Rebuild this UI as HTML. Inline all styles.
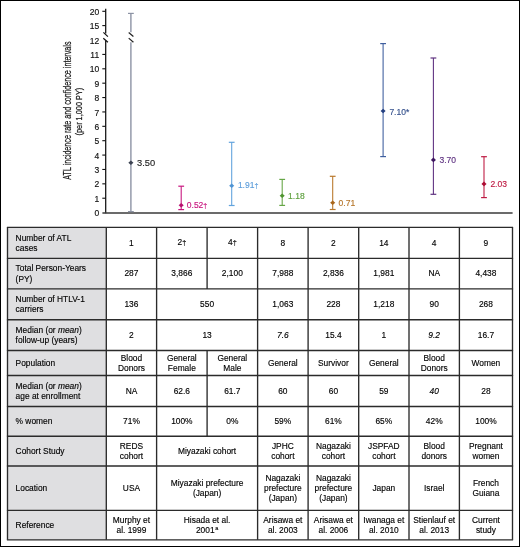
<!DOCTYPE html>
<html><head><meta charset="utf-8"><style>
html,body{margin:0;padding:0;background:#fff}
#root{will-change:transform;position:relative;width:520px;height:547px;overflow:hidden;background:#fff;box-sizing:border-box;border:1px solid #000}
#root>*{}
.c{position:absolute;display:flex;align-items:center;font-family:"Liberation Sans", sans-serif;font-size:8.4px;line-height:10.2px;color:#000;-webkit-text-stroke:0.14px #000}
.d{justify-content:center;text-align:center}
.h{justify-content:flex-start;text-align:left}
sup{font-size:5.5px;line-height:0;vertical-align:3.2px;margin-left:0.6px}
.dg{font-size:0.86em;vertical-align:0.06em}
</style></head><body><div id="root">
<div style="position:absolute;left:-1px;top:-1px;width:520px;height:547px">
<svg width="520" height="222" viewBox="0 0 520 222" style="position:absolute;left:0;top:0"><text font-family='"Liberation Sans", sans-serif' font-size="10.1" fill="#1a1a1a" stroke="#1a1a1a" stroke-width="0.25" text-anchor="middle" transform="translate(70.9,110.6) rotate(-90) scale(0.71,1)">ATL incidence rate and confidence intervals</text><text font-family='"Liberation Sans", sans-serif' font-size="9.8" fill="#1a1a1a" stroke="#1a1a1a" stroke-width="0.25" text-anchor="middle" transform="translate(82.3,111.6) rotate(-90) scale(0.75,1)">(per 1,000 PY)</text><line x1="105.7" y1="8.8" x2="105.7" y2="33.6" stroke="#111" stroke-width="1.25"/><line x1="105.7" y1="40.5" x2="105.7" y2="213.3" stroke="#111" stroke-width="1.25"/><line x1="103.4" y1="32.4" x2="107.9" y2="36.6" stroke="#111" stroke-width="1.2"/><line x1="103.3" y1="38.2" x2="107.9" y2="42.2" stroke="#111" stroke-width="1.2"/><line x1="102.4" y1="213.0" x2="512.6" y2="213.0" stroke="#3a3a3a" stroke-width="1.7"/><line x1="102.3" y1="11.30" x2="105.7" y2="11.30" stroke="#111" stroke-width="1.1"/><text x="99.2" y="14.90" font-family='"Liberation Sans", sans-serif' font-size="8.5" fill="#111" stroke="#111" stroke-width="0.15" text-anchor="end">20</text><line x1="102.3" y1="25.60" x2="105.7" y2="25.60" stroke="#111" stroke-width="1.1"/><text x="99.2" y="29.20" font-family='"Liberation Sans", sans-serif' font-size="8.5" fill="#111" stroke="#111" stroke-width="0.15" text-anchor="end">15</text><text x="99.2" y="43.60" font-family='"Liberation Sans", sans-serif' font-size="8.5" fill="#111" stroke="#111" stroke-width="0.15" text-anchor="end">12</text><line x1="102.3" y1="54.42" x2="105.7" y2="54.42" stroke="#111" stroke-width="1.1"/><text x="99.2" y="58.02" font-family='"Liberation Sans", sans-serif' font-size="8.5" fill="#111" stroke="#111" stroke-width="0.15" text-anchor="end">11</text><line x1="102.3" y1="68.80" x2="105.7" y2="68.80" stroke="#111" stroke-width="1.1"/><text x="99.2" y="72.40" font-family='"Liberation Sans", sans-serif' font-size="8.5" fill="#111" stroke="#111" stroke-width="0.15" text-anchor="end">10</text><line x1="102.3" y1="83.18" x2="105.7" y2="83.18" stroke="#111" stroke-width="1.1"/><text x="99.2" y="86.78" font-family='"Liberation Sans", sans-serif' font-size="8.5" fill="#111" stroke="#111" stroke-width="0.15" text-anchor="end">9</text><line x1="102.3" y1="97.56" x2="105.7" y2="97.56" stroke="#111" stroke-width="1.1"/><text x="99.2" y="101.16" font-family='"Liberation Sans", sans-serif' font-size="8.5" fill="#111" stroke="#111" stroke-width="0.15" text-anchor="end">8</text><line x1="102.3" y1="111.94" x2="105.7" y2="111.94" stroke="#111" stroke-width="1.1"/><text x="99.2" y="115.54" font-family='"Liberation Sans", sans-serif' font-size="8.5" fill="#111" stroke="#111" stroke-width="0.15" text-anchor="end">7</text><line x1="102.3" y1="126.32" x2="105.7" y2="126.32" stroke="#111" stroke-width="1.1"/><text x="99.2" y="129.92" font-family='"Liberation Sans", sans-serif' font-size="8.5" fill="#111" stroke="#111" stroke-width="0.15" text-anchor="end">6</text><line x1="102.3" y1="140.70" x2="105.7" y2="140.70" stroke="#111" stroke-width="1.1"/><text x="99.2" y="144.30" font-family='"Liberation Sans", sans-serif' font-size="8.5" fill="#111" stroke="#111" stroke-width="0.15" text-anchor="end">5</text><line x1="102.3" y1="155.08" x2="105.7" y2="155.08" stroke="#111" stroke-width="1.1"/><text x="99.2" y="158.68" font-family='"Liberation Sans", sans-serif' font-size="8.5" fill="#111" stroke="#111" stroke-width="0.15" text-anchor="end">4</text><line x1="102.3" y1="169.46" x2="105.7" y2="169.46" stroke="#111" stroke-width="1.1"/><text x="99.2" y="173.06" font-family='"Liberation Sans", sans-serif' font-size="8.5" fill="#111" stroke="#111" stroke-width="0.15" text-anchor="end">3</text><line x1="102.3" y1="183.84" x2="105.7" y2="183.84" stroke="#111" stroke-width="1.1"/><text x="99.2" y="187.44" font-family='"Liberation Sans", sans-serif' font-size="8.5" fill="#111" stroke="#111" stroke-width="0.15" text-anchor="end">2</text><line x1="102.3" y1="198.22" x2="105.7" y2="198.22" stroke="#111" stroke-width="1.1"/><text x="99.2" y="201.82" font-family='"Liberation Sans", sans-serif' font-size="8.5" fill="#111" stroke="#111" stroke-width="0.15" text-anchor="end">1</text><text x="99.2" y="216.20" font-family='"Liberation Sans", sans-serif' font-size="8.5" fill="#111" stroke="#111" stroke-width="0.15" text-anchor="end">0</text><line x1="130.9" y1="13.4" x2="130.9" y2="32.2" stroke="#8c93a4" stroke-width="1.4"/><line x1="130.9" y1="42.3" x2="130.9" y2="211.6" stroke="#8c93a4" stroke-width="1.4"/><line x1="128.7" y1="32.5" x2="133.4" y2="36.5" stroke="#222" stroke-width="1.2"/><line x1="128.7" y1="38.1" x2="133.4" y2="42.2" stroke="#222" stroke-width="1.2"/><line x1="128.00" y1="13.4" x2="133.80" y2="13.4" stroke="#8c93a4" stroke-width="1.2"/><line x1="128.00" y1="211.6" x2="133.80" y2="211.6" stroke="#8c93a4" stroke-width="1.2"/><polygon points="128.35,162.7 130.90,160.40 133.45,162.7 130.90,165.00" fill="#3c4352"/><text x="137.0" y="165.60" font-family='"Liberation Sans", sans-serif' font-size="9.3" fill="#262626" stroke="#262626" stroke-width="0.15">3.50</text><line x1="181.2" y1="186.2" x2="181.2" y2="209.6" stroke="#c8167f" stroke-width="1.08"/><line x1="178.30" y1="186.2" x2="184.10" y2="186.2" stroke="#c8167f" stroke-width="1.2"/><line x1="178.30" y1="209.6" x2="184.10" y2="209.6" stroke="#c8167f" stroke-width="1.2"/><polygon points="178.65,205.3 181.20,203.00 183.75,205.3 181.20,207.60" fill="#b8106f"/><text x="186.8" y="208.47" font-family='"Liberation Sans", sans-serif' font-size="8.5" fill="#c8167f" stroke="#c8167f" stroke-width="0.15">0.52<tspan font-size="7.2" dy="-0.4">†</tspan></text><line x1="231.7" y1="142.3" x2="231.7" y2="205.5" stroke="#62a3dd" stroke-width="1.08"/><line x1="228.80" y1="142.3" x2="234.60" y2="142.3" stroke="#62a3dd" stroke-width="1.2"/><line x1="228.80" y1="205.5" x2="234.60" y2="205.5" stroke="#62a3dd" stroke-width="1.2"/><polygon points="229.15,185.7 231.70,183.40 234.25,185.7 231.70,188.00" fill="#4f94d4"/><text x="237.9" y="188.17" font-family='"Liberation Sans", sans-serif' font-size="8.5" fill="#5f9fdb" stroke="#5f9fdb" stroke-width="0.15">1.91<tspan font-size="7.2" dy="-0.4">†</tspan></text><line x1="282.2" y1="179.4" x2="282.2" y2="205.4" stroke="#66a646" stroke-width="1.08"/><line x1="279.30" y1="179.4" x2="285.10" y2="179.4" stroke="#66a646" stroke-width="1.2"/><line x1="279.30" y1="205.4" x2="285.10" y2="205.4" stroke="#66a646" stroke-width="1.2"/><polygon points="279.65,195.8 282.20,193.50 284.75,195.8 282.20,198.10" fill="#4f9530"/><text x="288.1" y="198.97" font-family='"Liberation Sans", sans-serif' font-size="8.5" fill="#5ea03e" stroke="#5ea03e" stroke-width="0.15">1.18</text><line x1="332.7" y1="176.3" x2="332.7" y2="209.5" stroke="#b9782c" stroke-width="1.08"/><line x1="329.80" y1="176.3" x2="335.60" y2="176.3" stroke="#b9782c" stroke-width="1.2"/><line x1="329.80" y1="209.5" x2="335.60" y2="209.5" stroke="#b9782c" stroke-width="1.2"/><polygon points="330.15,202.8 332.70,200.50 335.25,202.8 332.70,205.10" fill="#a9661a"/><text x="338.6" y="205.97" font-family='"Liberation Sans", sans-serif' font-size="8.5" fill="#b57428" stroke="#b57428" stroke-width="0.15">0.71</text><line x1="383.1" y1="43.6" x2="383.1" y2="156.6" stroke="#3f5f9f" stroke-width="1.08"/><line x1="380.20" y1="43.6" x2="386.00" y2="43.6" stroke="#3f5f9f" stroke-width="1.2"/><line x1="380.20" y1="156.6" x2="386.00" y2="156.6" stroke="#3f5f9f" stroke-width="1.2"/><polygon points="380.55,111.0 383.10,108.70 385.65,111.0 383.10,113.30" fill="#233f80"/><text x="389.4" y="114.77" font-family='"Liberation Sans", sans-serif' font-size="8.5" fill="#34508c" stroke="#34508c" stroke-width="0.15">7.10*</text><line x1="433.4" y1="58.0" x2="433.4" y2="194.3" stroke="#5e3180" stroke-width="1.08"/><line x1="430.50" y1="58.0" x2="436.30" y2="58.0" stroke="#5e3180" stroke-width="1.2"/><line x1="430.50" y1="194.3" x2="436.30" y2="194.3" stroke="#5e3180" stroke-width="1.2"/><polygon points="430.85,159.9 433.40,157.60 435.95,159.9 433.40,162.20" fill="#3d1560"/><text x="439.5" y="163.47" font-family='"Liberation Sans", sans-serif' font-size="8.5" fill="#5e3180" stroke="#5e3180" stroke-width="0.15">3.70</text><line x1="484.0" y1="156.7" x2="484.0" y2="197.6" stroke="#be1a42" stroke-width="1.08"/><line x1="481.10" y1="156.7" x2="486.90" y2="156.7" stroke="#be1a42" stroke-width="1.2"/><line x1="481.10" y1="197.6" x2="486.90" y2="197.6" stroke="#be1a42" stroke-width="1.2"/><polygon points="481.45,183.9 484.00,181.60 486.55,183.9 484.00,186.20" fill="#ad0c33"/><text x="490.4" y="186.97" font-family='"Liberation Sans", sans-serif' font-size="8.5" fill="#be1a42" stroke="#be1a42" stroke-width="0.15">2.03</text></svg>
<div style="position:absolute;left:7.5px;top:227.3px;width:98.80px;height:312.50px;background:#dfdfe1"></div><div class="c h" style="left:15.60px;top:227.30px;width:89.80px;height:31.00px"><span>Number of ATL<br>cases</span></div><div class="c d" style="left:106.30px;top:227.30px;width:50.30px;height:31.00px"><span>1</span></div><div class="c d" style="left:156.60px;top:227.30px;width:50.50px;height:31.00px"><span>2<span class="dg">†</span></span></div><div class="c d" style="left:207.10px;top:227.30px;width:50.50px;height:31.00px"><span>4<span class="dg">†</span></span></div><div class="c d" style="left:257.60px;top:227.30px;width:50.50px;height:31.00px"><span>8</span></div><div class="c d" style="left:308.10px;top:227.30px;width:50.60px;height:31.00px"><span>2</span></div><div class="c d" style="left:358.70px;top:227.30px;width:50.30px;height:31.00px"><span>14</span></div><div class="c d" style="left:409.00px;top:227.30px;width:50.40px;height:31.00px"><span>4</span></div><div class="c d" style="left:459.40px;top:227.30px;width:53.10px;height:31.00px"><span>9</span></div><div class="c h" style="left:15.60px;top:258.30px;width:89.80px;height:30.60px"><span>Total Person-Years<br>(PY)</span></div><div class="c d" style="left:106.30px;top:258.30px;width:50.30px;height:30.60px"><span>287</span></div><div class="c d" style="left:156.60px;top:258.30px;width:50.50px;height:30.60px"><span>3,866</span></div><div class="c d" style="left:207.10px;top:258.30px;width:50.50px;height:30.60px"><span>2,100</span></div><div class="c d" style="left:257.60px;top:258.30px;width:50.50px;height:30.60px"><span>7,988</span></div><div class="c d" style="left:308.10px;top:258.30px;width:50.60px;height:30.60px"><span>2,836</span></div><div class="c d" style="left:358.70px;top:258.30px;width:50.30px;height:30.60px"><span>1,981</span></div><div class="c d" style="left:409.00px;top:258.30px;width:50.40px;height:30.60px"><span>NA</span></div><div class="c d" style="left:459.40px;top:258.30px;width:53.10px;height:30.60px"><span>4,438</span></div><div class="c h" style="left:15.60px;top:288.90px;width:89.80px;height:30.80px"><span>Number of HTLV-1<br>carriers</span></div><div class="c d" style="left:106.30px;top:288.90px;width:50.30px;height:30.80px"><span>136</span></div><div class="c d" style="left:156.60px;top:288.90px;width:101.00px;height:30.80px"><span>550</span></div><div class="c d" style="left:257.60px;top:288.90px;width:50.50px;height:30.80px"><span>1,063</span></div><div class="c d" style="left:308.10px;top:288.90px;width:50.60px;height:30.80px"><span>228</span></div><div class="c d" style="left:358.70px;top:288.90px;width:50.30px;height:30.80px"><span>1,218</span></div><div class="c d" style="left:409.00px;top:288.90px;width:50.40px;height:30.80px"><span>90</span></div><div class="c d" style="left:459.40px;top:288.90px;width:53.10px;height:30.80px"><span>268</span></div><div class="c h" style="left:15.60px;top:319.70px;width:89.80px;height:30.80px"><span>Median (or <i>mean</i>)<br>follow-up (years)</span></div><div class="c d" style="left:106.30px;top:319.70px;width:50.30px;height:30.80px"><span>2</span></div><div class="c d" style="left:156.60px;top:319.70px;width:101.00px;height:30.80px"><span>13</span></div><div class="c d" style="left:257.60px;top:319.70px;width:50.50px;height:30.80px"><span><i>7.6</i></span></div><div class="c d" style="left:308.10px;top:319.70px;width:50.60px;height:30.80px"><span>15.4</span></div><div class="c d" style="left:358.70px;top:319.70px;width:50.30px;height:30.80px"><span>1</span></div><div class="c d" style="left:409.00px;top:319.70px;width:50.40px;height:30.80px"><span><i>9.2</i></span></div><div class="c d" style="left:459.40px;top:319.70px;width:53.10px;height:30.80px"><span>16.7</span></div><div class="c h" style="left:15.60px;top:350.50px;width:89.80px;height:25.00px"><span>Population</span></div><div class="c d" style="left:106.30px;top:350.50px;width:50.30px;height:25.00px"><span>Blood<br>Donors</span></div><div class="c d" style="left:156.60px;top:350.50px;width:50.50px;height:25.00px"><span>General<br>Female</span></div><div class="c d" style="left:207.10px;top:350.50px;width:50.50px;height:25.00px"><span>General<br>Male</span></div><div class="c d" style="left:257.60px;top:350.50px;width:50.50px;height:25.00px"><span>General</span></div><div class="c d" style="left:308.10px;top:350.50px;width:50.60px;height:25.00px"><span>Survivor</span></div><div class="c d" style="left:358.70px;top:350.50px;width:50.30px;height:25.00px"><span>General</span></div><div class="c d" style="left:409.00px;top:350.50px;width:50.40px;height:25.00px"><span>Blood<br>Donors</span></div><div class="c d" style="left:459.40px;top:350.50px;width:53.10px;height:25.00px"><span>Women</span></div><div class="c h" style="left:15.60px;top:375.50px;width:89.80px;height:31.00px"><span>Median (or <i>mean</i>)<br>age at enrollment</span></div><div class="c d" style="left:106.30px;top:375.50px;width:50.30px;height:31.00px"><span>NA</span></div><div class="c d" style="left:156.60px;top:375.50px;width:50.50px;height:31.00px"><span>62.6</span></div><div class="c d" style="left:207.10px;top:375.50px;width:50.50px;height:31.00px"><span>61.7</span></div><div class="c d" style="left:257.60px;top:375.50px;width:50.50px;height:31.00px"><span>60</span></div><div class="c d" style="left:308.10px;top:375.50px;width:50.60px;height:31.00px"><span>60</span></div><div class="c d" style="left:358.70px;top:375.50px;width:50.30px;height:31.00px"><span>59</span></div><div class="c d" style="left:409.00px;top:375.50px;width:50.40px;height:31.00px"><span><i>40</i></span></div><div class="c d" style="left:459.40px;top:375.50px;width:53.10px;height:31.00px"><span>28</span></div><div class="c h" style="left:15.60px;top:406.50px;width:89.80px;height:29.70px"><span>% women</span></div><div class="c d" style="left:106.30px;top:406.50px;width:50.30px;height:29.70px"><span>71%</span></div><div class="c d" style="left:156.60px;top:406.50px;width:50.50px;height:29.70px"><span>100%</span></div><div class="c d" style="left:207.10px;top:406.50px;width:50.50px;height:29.70px"><span>0%</span></div><div class="c d" style="left:257.60px;top:406.50px;width:50.50px;height:29.70px"><span>59%</span></div><div class="c d" style="left:308.10px;top:406.50px;width:50.60px;height:29.70px"><span>61%</span></div><div class="c d" style="left:358.70px;top:406.50px;width:50.30px;height:29.70px"><span>65%</span></div><div class="c d" style="left:409.00px;top:406.50px;width:50.40px;height:29.70px"><span>42%</span></div><div class="c d" style="left:459.40px;top:406.50px;width:53.10px;height:29.70px"><span>100%</span></div><div class="c h" style="left:15.60px;top:436.20px;width:89.80px;height:29.80px"><span>Cohort Study</span></div><div class="c d" style="left:106.30px;top:436.20px;width:50.30px;height:29.80px"><span>REDS<br>cohort</span></div><div class="c d" style="left:156.60px;top:436.20px;width:101.00px;height:29.80px"><span>Miyazaki cohort</span></div><div class="c d" style="left:257.60px;top:436.20px;width:50.50px;height:29.80px"><span>JPHC<br>cohort</span></div><div class="c d" style="left:308.10px;top:436.20px;width:50.60px;height:29.80px"><span>Nagazaki<br>cohort</span></div><div class="c d" style="left:358.70px;top:436.20px;width:50.30px;height:29.80px"><span>JSPFAD<br>cohort</span></div><div class="c d" style="left:409.00px;top:436.20px;width:50.40px;height:29.80px"><span>Blood<br>donors</span></div><div class="c d" style="left:459.40px;top:436.20px;width:53.10px;height:29.80px"><span>Pregnant<br>women</span></div><div class="c h" style="left:15.60px;top:466.00px;width:89.80px;height:44.40px"><span>Location</span></div><div class="c d" style="left:106.30px;top:466.00px;width:50.30px;height:44.40px"><span>USA</span></div><div class="c d" style="left:156.60px;top:466.00px;width:101.00px;height:44.40px"><span>Miyazaki prefecture<br>(Japan)</span></div><div class="c d" style="left:257.60px;top:466.00px;width:50.50px;height:44.40px"><span>Nagazaki<br>prefecture<br>(Japan)</span></div><div class="c d" style="left:308.10px;top:466.00px;width:50.60px;height:44.40px"><span>Nagazaki<br>prefecture<br>(Japan)</span></div><div class="c d" style="left:358.70px;top:466.00px;width:50.30px;height:44.40px"><span>Japan</span></div><div class="c d" style="left:409.00px;top:466.00px;width:50.40px;height:44.40px"><span>Israel</span></div><div class="c d" style="left:459.40px;top:466.00px;width:53.10px;height:44.40px"><span>French<br>Guiana</span></div><div class="c h" style="left:15.60px;top:510.40px;width:89.80px;height:29.40px"><span>Reference</span></div><div class="c d" style="left:106.30px;top:510.40px;width:50.30px;height:29.40px"><span>Murphy et<br>al. 1999</span></div><div class="c d" style="left:156.60px;top:510.40px;width:101.00px;height:29.40px"><span>Hisada et al.<br>2001<sup>a</sup></span></div><div class="c d" style="left:257.60px;top:510.40px;width:50.50px;height:29.40px"><span>Arisawa et<br>al. 2003</span></div><div class="c d" style="left:308.10px;top:510.40px;width:50.60px;height:29.40px"><span>Arisawa et<br>al. 2006</span></div><div class="c d" style="left:358.70px;top:510.40px;width:50.30px;height:29.40px"><span>Iwanaga et<br>al. 2010</span></div><div class="c d" style="left:409.00px;top:510.40px;width:50.40px;height:29.40px"><span>Stienlauf et<br>al. 2013</span></div><div class="c d" style="left:459.40px;top:510.40px;width:53.10px;height:29.40px"><span>Current<br>study</span></div>
<svg width="520" height="547" style="position:absolute;left:0;top:0"><line x1="6.9" y1="227.3" x2="513.1" y2="227.3" stroke="#2b2b2b" stroke-width="1.35"/><line x1="6.9" y1="258.3" x2="513.1" y2="258.3" stroke="#2b2b2b" stroke-width="1.35"/><line x1="6.9" y1="288.9" x2="513.1" y2="288.9" stroke="#2b2b2b" stroke-width="1.35"/><line x1="6.9" y1="319.7" x2="513.1" y2="319.7" stroke="#2b2b2b" stroke-width="1.35"/><line x1="6.9" y1="350.5" x2="513.1" y2="350.5" stroke="#2b2b2b" stroke-width="1.35"/><line x1="6.9" y1="375.5" x2="513.1" y2="375.5" stroke="#2b2b2b" stroke-width="1.35"/><line x1="6.9" y1="406.5" x2="513.1" y2="406.5" stroke="#2b2b2b" stroke-width="1.35"/><line x1="6.9" y1="436.2" x2="513.1" y2="436.2" stroke="#2b2b2b" stroke-width="1.35"/><line x1="6.9" y1="466.0" x2="513.1" y2="466.0" stroke="#2b2b2b" stroke-width="1.35"/><line x1="6.9" y1="510.4" x2="513.1" y2="510.4" stroke="#2b2b2b" stroke-width="1.35"/><line x1="6.9" y1="539.8" x2="513.1" y2="539.8" stroke="#2b2b2b" stroke-width="1.35"/><line x1="7.5" y1="227.3" x2="7.5" y2="258.3" stroke="#2b2b2b" stroke-width="1.35"/><line x1="106.3" y1="227.3" x2="106.3" y2="258.3" stroke="#2b2b2b" stroke-width="1.35"/><line x1="156.6" y1="227.3" x2="156.6" y2="258.3" stroke="#2b2b2b" stroke-width="1.35"/><line x1="207.1" y1="227.3" x2="207.1" y2="258.3" stroke="#2b2b2b" stroke-width="1.35"/><line x1="257.6" y1="227.3" x2="257.6" y2="258.3" stroke="#2b2b2b" stroke-width="1.35"/><line x1="308.1" y1="227.3" x2="308.1" y2="258.3" stroke="#2b2b2b" stroke-width="1.35"/><line x1="358.7" y1="227.3" x2="358.7" y2="258.3" stroke="#2b2b2b" stroke-width="1.35"/><line x1="409.0" y1="227.3" x2="409.0" y2="258.3" stroke="#2b2b2b" stroke-width="1.35"/><line x1="459.4" y1="227.3" x2="459.4" y2="258.3" stroke="#2b2b2b" stroke-width="1.35"/><line x1="512.5" y1="227.3" x2="512.5" y2="258.3" stroke="#2b2b2b" stroke-width="1.35"/><line x1="7.5" y1="258.3" x2="7.5" y2="288.9" stroke="#2b2b2b" stroke-width="1.35"/><line x1="106.3" y1="258.3" x2="106.3" y2="288.9" stroke="#2b2b2b" stroke-width="1.35"/><line x1="156.6" y1="258.3" x2="156.6" y2="288.9" stroke="#2b2b2b" stroke-width="1.35"/><line x1="207.1" y1="258.3" x2="207.1" y2="288.9" stroke="#2b2b2b" stroke-width="1.35"/><line x1="257.6" y1="258.3" x2="257.6" y2="288.9" stroke="#2b2b2b" stroke-width="1.35"/><line x1="308.1" y1="258.3" x2="308.1" y2="288.9" stroke="#2b2b2b" stroke-width="1.35"/><line x1="358.7" y1="258.3" x2="358.7" y2="288.9" stroke="#2b2b2b" stroke-width="1.35"/><line x1="409.0" y1="258.3" x2="409.0" y2="288.9" stroke="#2b2b2b" stroke-width="1.35"/><line x1="459.4" y1="258.3" x2="459.4" y2="288.9" stroke="#2b2b2b" stroke-width="1.35"/><line x1="512.5" y1="258.3" x2="512.5" y2="288.9" stroke="#2b2b2b" stroke-width="1.35"/><line x1="7.5" y1="288.9" x2="7.5" y2="319.7" stroke="#2b2b2b" stroke-width="1.35"/><line x1="106.3" y1="288.9" x2="106.3" y2="319.7" stroke="#2b2b2b" stroke-width="1.35"/><line x1="156.6" y1="288.9" x2="156.6" y2="319.7" stroke="#2b2b2b" stroke-width="1.35"/><line x1="257.6" y1="288.9" x2="257.6" y2="319.7" stroke="#2b2b2b" stroke-width="1.35"/><line x1="308.1" y1="288.9" x2="308.1" y2="319.7" stroke="#2b2b2b" stroke-width="1.35"/><line x1="358.7" y1="288.9" x2="358.7" y2="319.7" stroke="#2b2b2b" stroke-width="1.35"/><line x1="409.0" y1="288.9" x2="409.0" y2="319.7" stroke="#2b2b2b" stroke-width="1.35"/><line x1="459.4" y1="288.9" x2="459.4" y2="319.7" stroke="#2b2b2b" stroke-width="1.35"/><line x1="512.5" y1="288.9" x2="512.5" y2="319.7" stroke="#2b2b2b" stroke-width="1.35"/><line x1="7.5" y1="319.7" x2="7.5" y2="350.5" stroke="#2b2b2b" stroke-width="1.35"/><line x1="106.3" y1="319.7" x2="106.3" y2="350.5" stroke="#2b2b2b" stroke-width="1.35"/><line x1="156.6" y1="319.7" x2="156.6" y2="350.5" stroke="#2b2b2b" stroke-width="1.35"/><line x1="257.6" y1="319.7" x2="257.6" y2="350.5" stroke="#2b2b2b" stroke-width="1.35"/><line x1="308.1" y1="319.7" x2="308.1" y2="350.5" stroke="#2b2b2b" stroke-width="1.35"/><line x1="358.7" y1="319.7" x2="358.7" y2="350.5" stroke="#2b2b2b" stroke-width="1.35"/><line x1="409.0" y1="319.7" x2="409.0" y2="350.5" stroke="#2b2b2b" stroke-width="1.35"/><line x1="459.4" y1="319.7" x2="459.4" y2="350.5" stroke="#2b2b2b" stroke-width="1.35"/><line x1="512.5" y1="319.7" x2="512.5" y2="350.5" stroke="#2b2b2b" stroke-width="1.35"/><line x1="7.5" y1="350.5" x2="7.5" y2="375.5" stroke="#2b2b2b" stroke-width="1.35"/><line x1="106.3" y1="350.5" x2="106.3" y2="375.5" stroke="#2b2b2b" stroke-width="1.35"/><line x1="156.6" y1="350.5" x2="156.6" y2="375.5" stroke="#2b2b2b" stroke-width="1.35"/><line x1="207.1" y1="350.5" x2="207.1" y2="375.5" stroke="#2b2b2b" stroke-width="1.35"/><line x1="257.6" y1="350.5" x2="257.6" y2="375.5" stroke="#2b2b2b" stroke-width="1.35"/><line x1="308.1" y1="350.5" x2="308.1" y2="375.5" stroke="#2b2b2b" stroke-width="1.35"/><line x1="358.7" y1="350.5" x2="358.7" y2="375.5" stroke="#2b2b2b" stroke-width="1.35"/><line x1="409.0" y1="350.5" x2="409.0" y2="375.5" stroke="#2b2b2b" stroke-width="1.35"/><line x1="459.4" y1="350.5" x2="459.4" y2="375.5" stroke="#2b2b2b" stroke-width="1.35"/><line x1="512.5" y1="350.5" x2="512.5" y2="375.5" stroke="#2b2b2b" stroke-width="1.35"/><line x1="7.5" y1="375.5" x2="7.5" y2="406.5" stroke="#2b2b2b" stroke-width="1.35"/><line x1="106.3" y1="375.5" x2="106.3" y2="406.5" stroke="#2b2b2b" stroke-width="1.35"/><line x1="156.6" y1="375.5" x2="156.6" y2="406.5" stroke="#2b2b2b" stroke-width="1.35"/><line x1="207.1" y1="375.5" x2="207.1" y2="406.5" stroke="#2b2b2b" stroke-width="1.35"/><line x1="257.6" y1="375.5" x2="257.6" y2="406.5" stroke="#2b2b2b" stroke-width="1.35"/><line x1="308.1" y1="375.5" x2="308.1" y2="406.5" stroke="#2b2b2b" stroke-width="1.35"/><line x1="358.7" y1="375.5" x2="358.7" y2="406.5" stroke="#2b2b2b" stroke-width="1.35"/><line x1="409.0" y1="375.5" x2="409.0" y2="406.5" stroke="#2b2b2b" stroke-width="1.35"/><line x1="459.4" y1="375.5" x2="459.4" y2="406.5" stroke="#2b2b2b" stroke-width="1.35"/><line x1="512.5" y1="375.5" x2="512.5" y2="406.5" stroke="#2b2b2b" stroke-width="1.35"/><line x1="7.5" y1="406.5" x2="7.5" y2="436.2" stroke="#2b2b2b" stroke-width="1.35"/><line x1="106.3" y1="406.5" x2="106.3" y2="436.2" stroke="#2b2b2b" stroke-width="1.35"/><line x1="156.6" y1="406.5" x2="156.6" y2="436.2" stroke="#2b2b2b" stroke-width="1.35"/><line x1="207.1" y1="406.5" x2="207.1" y2="436.2" stroke="#2b2b2b" stroke-width="1.35"/><line x1="257.6" y1="406.5" x2="257.6" y2="436.2" stroke="#2b2b2b" stroke-width="1.35"/><line x1="308.1" y1="406.5" x2="308.1" y2="436.2" stroke="#2b2b2b" stroke-width="1.35"/><line x1="358.7" y1="406.5" x2="358.7" y2="436.2" stroke="#2b2b2b" stroke-width="1.35"/><line x1="409.0" y1="406.5" x2="409.0" y2="436.2" stroke="#2b2b2b" stroke-width="1.35"/><line x1="459.4" y1="406.5" x2="459.4" y2="436.2" stroke="#2b2b2b" stroke-width="1.35"/><line x1="512.5" y1="406.5" x2="512.5" y2="436.2" stroke="#2b2b2b" stroke-width="1.35"/><line x1="7.5" y1="436.2" x2="7.5" y2="466.0" stroke="#2b2b2b" stroke-width="1.35"/><line x1="106.3" y1="436.2" x2="106.3" y2="466.0" stroke="#2b2b2b" stroke-width="1.35"/><line x1="156.6" y1="436.2" x2="156.6" y2="466.0" stroke="#2b2b2b" stroke-width="1.35"/><line x1="257.6" y1="436.2" x2="257.6" y2="466.0" stroke="#2b2b2b" stroke-width="1.35"/><line x1="308.1" y1="436.2" x2="308.1" y2="466.0" stroke="#2b2b2b" stroke-width="1.35"/><line x1="358.7" y1="436.2" x2="358.7" y2="466.0" stroke="#2b2b2b" stroke-width="1.35"/><line x1="409.0" y1="436.2" x2="409.0" y2="466.0" stroke="#2b2b2b" stroke-width="1.35"/><line x1="459.4" y1="436.2" x2="459.4" y2="466.0" stroke="#2b2b2b" stroke-width="1.35"/><line x1="512.5" y1="436.2" x2="512.5" y2="466.0" stroke="#2b2b2b" stroke-width="1.35"/><line x1="7.5" y1="466.0" x2="7.5" y2="510.4" stroke="#2b2b2b" stroke-width="1.35"/><line x1="106.3" y1="466.0" x2="106.3" y2="510.4" stroke="#2b2b2b" stroke-width="1.35"/><line x1="156.6" y1="466.0" x2="156.6" y2="510.4" stroke="#2b2b2b" stroke-width="1.35"/><line x1="257.6" y1="466.0" x2="257.6" y2="510.4" stroke="#2b2b2b" stroke-width="1.35"/><line x1="308.1" y1="466.0" x2="308.1" y2="510.4" stroke="#2b2b2b" stroke-width="1.35"/><line x1="358.7" y1="466.0" x2="358.7" y2="510.4" stroke="#2b2b2b" stroke-width="1.35"/><line x1="409.0" y1="466.0" x2="409.0" y2="510.4" stroke="#2b2b2b" stroke-width="1.35"/><line x1="459.4" y1="466.0" x2="459.4" y2="510.4" stroke="#2b2b2b" stroke-width="1.35"/><line x1="512.5" y1="466.0" x2="512.5" y2="510.4" stroke="#2b2b2b" stroke-width="1.35"/><line x1="7.5" y1="510.4" x2="7.5" y2="539.8" stroke="#2b2b2b" stroke-width="1.35"/><line x1="106.3" y1="510.4" x2="106.3" y2="539.8" stroke="#2b2b2b" stroke-width="1.35"/><line x1="156.6" y1="510.4" x2="156.6" y2="539.8" stroke="#2b2b2b" stroke-width="1.35"/><line x1="257.6" y1="510.4" x2="257.6" y2="539.8" stroke="#2b2b2b" stroke-width="1.35"/><line x1="308.1" y1="510.4" x2="308.1" y2="539.8" stroke="#2b2b2b" stroke-width="1.35"/><line x1="358.7" y1="510.4" x2="358.7" y2="539.8" stroke="#2b2b2b" stroke-width="1.35"/><line x1="409.0" y1="510.4" x2="409.0" y2="539.8" stroke="#2b2b2b" stroke-width="1.35"/><line x1="459.4" y1="510.4" x2="459.4" y2="539.8" stroke="#2b2b2b" stroke-width="1.35"/><line x1="512.5" y1="510.4" x2="512.5" y2="539.8" stroke="#2b2b2b" stroke-width="1.35"/></svg>
</div>
</div></body></html>
